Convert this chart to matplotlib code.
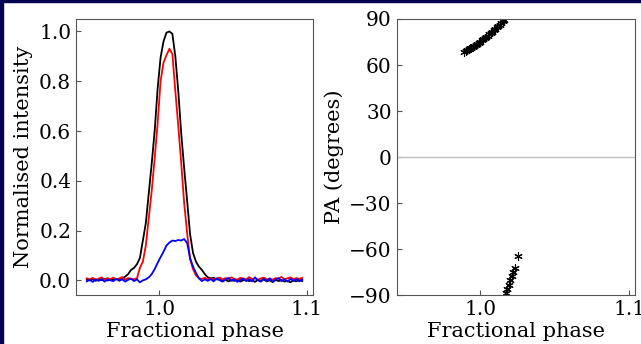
import matplotlib
matplotlib.use("Agg")
import matplotlib.pyplot as plt
from matplotlib.patches import Rectangle
from matplotlib.ticker import MultipleLocator

# phase bins of the profile
phase = [0.951, 0.953, 0.955, 0.957, 0.959, 0.961, 0.963, 0.965, 0.967, 0.969,
	0.971, 0.973, 0.975, 0.977, 0.979, 0.981, 0.983, 0.985, 0.987, 0.989,
	0.991, 0.993, 0.995, 0.997, 0.999, 1.001, 1.003, 1.005, 1.007, 1.009,
	1.011, 1.013, 1.015, 1.017, 1.019, 1.021, 1.023, 1.025, 1.027, 1.029,
	1.031, 1.033, 1.035, 1.037, 1.039, 1.041, 1.043, 1.045, 1.047, 1.049,
	1.051, 1.053, 1.055, 1.057, 1.059, 1.061, 1.063, 1.065, 1.067, 1.069,
	1.071, 1.073, 1.075, 1.077, 1.079, 1.081, 1.083, 1.085, 1.087, 1.089,
	1.091, 1.093, 1.095, 1.097]

# total intensity
stokes_i = [0.003, 0.000, 0.005, -0.002, 0.004, 0.001, 0.006, -0.001, 0.003, 0.002,
	0.005, 0.004, 0.008, 0.015, 0.025, 0.042, 0.050, 0.065, 0.090, 0.160,
	0.230, 0.350, 0.470, 0.600, 0.770, 0.895, 0.960, 0.995, 1.000, 0.990,
	0.900, 0.760, 0.590, 0.450, 0.320, 0.185, 0.110, 0.075, 0.055, 0.042,
	0.025, 0.012, 0.008, 0.010, 0.004, 0.003, -0.003, 0.002, -0.004, 0.001,
	-0.002, 0.003, -0.005, 0.000, 0.002, -0.003, 0.001, -0.006, 0.002, -0.001,
	0.003, -0.004, 0.000, -0.007, 0.002, -0.003, 0.001, -0.005, -0.002, -0.008,
	0.000, -0.004, 0.002, -0.003]

# linear polarisation
stokes_l = [0.008, 0.004, 0.010, 0.002, 0.007, 0.012, 0.003, 0.009, 0.005, 0.011,
	0.004, 0.008, 0.013, 0.003, 0.009, 0.006, 0.005, 0.008, 0.050, 0.075,
	0.140, 0.250, 0.360, 0.490, 0.630, 0.800, 0.875, 0.905, 0.930, 0.910,
	0.760, 0.620, 0.470, 0.310, 0.190, 0.085, 0.045, 0.020, 0.008, 0.006,
	0.010, 0.004, 0.008, 0.003, 0.007, 0.011, 0.004, 0.009, 0.005, 0.012,
	0.006, 0.003, 0.010, 0.007, 0.004, 0.013, 0.005, 0.009, 0.002, 0.008,
	0.011, 0.004, 0.007, 0.003, 0.009, 0.006, 0.014, 0.004, 0.008, 0.012,
	0.005, 0.009, 0.006, 0.010]

# circular polarisation
stokes_v = [-0.004, 0.002, -0.006, 0.004, -0.002, 0.005, -0.005, 0.003, 0.000, -0.003,
	0.006, -0.002, 0.004, -0.005, 0.002, 0.007, -0.003, 0.004, -0.008, 0.000,
	0.004, 0.012, 0.025, 0.045, 0.070, 0.093, 0.115, 0.140, 0.152, 0.160,
	0.158, 0.162, 0.160, 0.166, 0.150, 0.090, 0.055, 0.030, 0.008, -0.003,
	0.004, -0.002, 0.005, -0.004, 0.008, 0.001, -0.005, 0.003, 0.010, -0.002,
	0.004, -0.006, 0.002, 0.007, -0.003, 0.005, -0.004, 0.012, 0.000, -0.005,
	0.006, -0.002, 0.008, -0.006, 0.003, 0.009, -0.003, 0.004, -0.005, 0.006,
	-0.002, 0.005, -0.004, 0.003]

# position angle swing
pa_phase = [0.989, 0.990, 0.991, 0.992, 0.993, 0.994, 0.995, 0.996, 0.997, 0.998,
	0.999, 1.000, 1.001, 1.002, 1.003, 1.004, 1.005, 1.006, 1.007, 1.008,
	1.009, 1.010, 1.011, 1.012, 1.013, 1.014, 1.015, 1.016,
	1.017, 1.018, 1.019, 1.020, 1.021, 1.022, 1.023, 1.0255]
pa_deg = [68.5, 69.2, 69.5, 70.2, 70.8, 71.2, 72.0, 72.5, 73.2, 73.8,
	74.5, 75.3, 76.0, 76.8, 77.6, 78.3, 79.2, 80.0, 80.9, 81.8,
	82.7, 83.6, 84.5, 85.5, 86.4, 87.4, 88.4, 89.4,
	-88.5, -85.8, -83.0, -80.2, -77.5, -74.8, -72.0, -64.5]

def style_axes(ax):
	for s in ax.spines.values():
		s.set_color('#555555')
	ax.tick_params(direction='in', labelsize=14.5, color='#555555')
	ax.xaxis.set_major_locator(MultipleLocator(0.1))
	ax.set_xlim(0.9437, 1.1043)
	ax.set_xlabel("Fractional phase", fontsize=15, labelpad=2)

def main():
	plt.rcParams['font.family'] = 'DejaVu Serif'
	fig = plt.figure(figsize=(6.41, 3.44), dpi=100)

	ax1 = fig.add_axes([0.1186, 0.1416, 0.3697, 0.8032])
	ax1.plot(phase, stokes_i, color='k', linewidth=1.3)
	ax1.plot(phase, stokes_l, color='r', linewidth=1.3)
	ax1.plot(phase, stokes_v, color='b', linewidth=1.3)
	ax1.set_ylim(-0.06, 1.05)
	ax1.yaxis.set_major_locator(MultipleLocator(0.2))
	ax1.set_ylabel("Normalised intensity", fontsize=15)
	style_axes(ax1)

	ax2 = fig.add_axes([0.6189, 0.1416, 0.3725, 0.8032])
	ax2.axhline(0, color='#c0c0c0', linewidth=1)
	ax2.plot(pa_phase, pa_deg, linestyle='none', marker=(6, 2, 0), color='k', markersize=6, markeredgewidth=0.8)
	ax2.set_ylim(-90, 90)
	ax2.yaxis.set_major_locator(MultipleLocator(30))
	ax2.set_ylabel("PA (degrees)", fontsize=15)
	style_axes(ax2)

	# navy frame of the screenshot
	fig.patches.append(Rectangle((0, 0), 3.0/641, 1, transform=fig.transFigure, color='#03034f'))
	fig.patches.append(Rectangle((0, 1-2.0/344), 1, 2.0/344, transform=fig.transFigure, color='#03034f'))

	fig.savefig("out.png", dpi=100)

if __name__ == '__main__':
	main()
